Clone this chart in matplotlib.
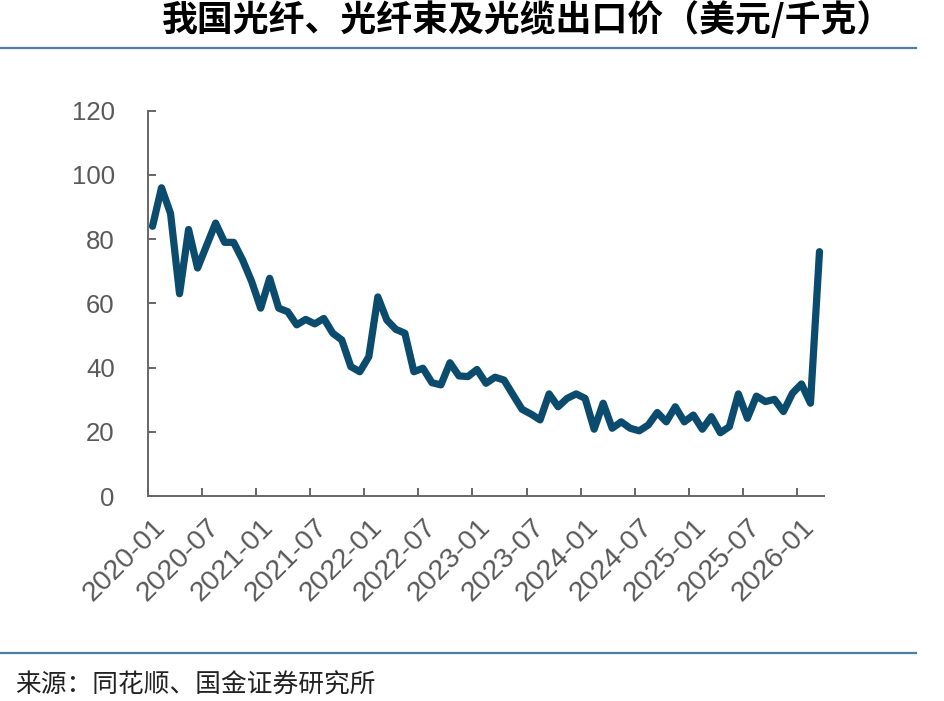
import matplotlib
matplotlib.use('Agg')
import matplotlib.pyplot as plt
from matplotlib.lines import Line2D

# ---- data ----
months = [f"{2020 + i // 12}-{i % 12 + 1:02d}" for i in range(75)]  # 2020-01 .. 2026-03
price = [84, 96, 88, 63, 83, 71, 78, 85, 79, 79,
         73.5, 66.8, 58.5, 67.8, 58.5, 57.4, 53.3, 55, 53.6, 55.3,
         50.7, 48.6, 40.3, 38.7, 43.4, 62, 54.8, 51.9, 50.7, 38.7,
         39.8, 35.3, 34.6, 41.5, 37.4, 37.2, 39.4, 35.1, 37, 36.1,
         31.5, 27, 25.5, 23.7, 31.8, 27.8, 30.4, 31.8, 30.4, 20.8,
         28.9, 21.1, 23.1, 21.1, 20.3, 22.1, 26, 23.1, 27.8, 23.1,
         25.2, 20.8, 24.7, 19.7, 21.6, 31.8, 24.2, 31.1, 29.4, 30.1,
         26.3, 32, 34.9, 28.9, 76.1]
y_ticks = [0, 20, 40, 60, 80, 100, 120]
title = "我国光纤、光纤束及光缆出口价（美元/千克）"
source = "来源：同花顺、国金证券研究所"

W, H = 945, 701
fig = plt.figure(figsize=(W / 100, H / 100), dpi=100)
ax = fig.add_axes([148 / W, 1 - 496 / H, (824 - 148) / W, (496 - 110.7) / H])

x = list(range(len(months)))
ax.plot(x, price, color='#0b4b6e', lw=5.2, solid_joinstyle='round', solid_capstyle='round')

ax.set_xlim(-0.5, len(months) - 0.5)
ax.set_ylim(0, 120)

for s in ['top', 'right']:
    ax.spines[s].set_visible(False)
for s in ['left', 'bottom']:
    ax.spines[s].set_color('#666666')
    ax.spines[s].set_linewidth(1.4)

lab_font = ['Liberation Sans', 'DejaVu Sans']
ax.set_yticks(y_ticks)
ax.set_yticklabels([str(v) for v in y_ticks], fontsize=18.5, color='#595959', family=lab_font)
ax.tick_params(axis='y', direction='in', length=6, width=1.4, color='#666666', pad=24)

label_idx = list(range(0, len(months), 6))
ax.set_xticks([i - 0.5 for i in label_idx])
ax.set_xticklabels([])
ax.tick_params(axis='x', which='major', direction='in', length=6, width=1.4, color='#666666')
ax.set_xticks(label_idx, minor=True)
ax.set_xticklabels([months[i] for i in label_idx], minor=True, rotation=45,
                   ha='right', va='top', rotation_mode='anchor',
                   fontsize=20.5, color='#595959', family=lab_font)
ax.tick_params(axis='x', which='minor', length=0, pad=13)

cjk = ['Noto Sans CJK SC', 'DejaVu Sans']
fig.text(893 / W, 1 - 20 / H, title, ha='right', va='center', fontsize=25.8,
         weight='bold', style='italic', family=cjk, color='black')
fig.text(15 / W, 1 - 686 / H, source, ha='left', va='center', fontsize=18.5,
         family=cjk, color='#222222')

fig.add_artist(Line2D([0, 916 / W], [1 - 48 / H] * 2, transform=fig.transFigure,
                      color='#4a7ea5', lw=1.6))
fig.add_artist(Line2D([0, 916 / W], [1 - 653 / H] * 2, transform=fig.transFigure,
                      color='#4a7ea5', lw=1.6))

fig.savefig('out.png', dpi=100)
